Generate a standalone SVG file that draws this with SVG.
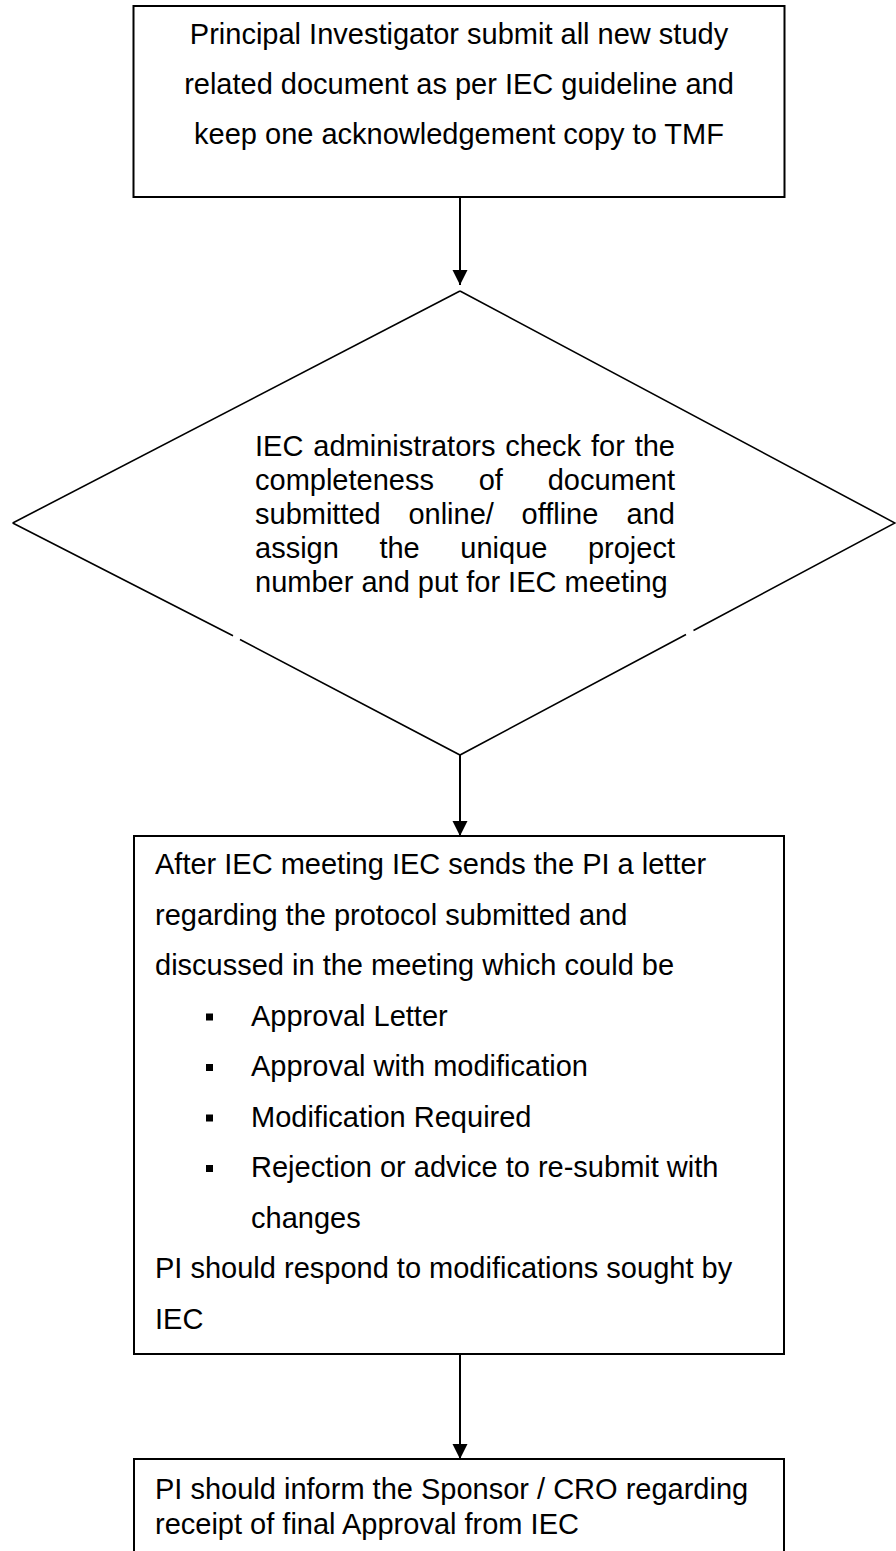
<svg xmlns="http://www.w3.org/2000/svg" width="896" height="1551" viewBox="0 0 896 1551">
<style>
  text { font-family: "Liberation Sans", Arial, sans-serif; font-size: 29px; fill: #000; }
  .box { fill: #fff; stroke: #000; stroke-width: 2; }
  .dia { fill: none; stroke: #000; stroke-width: 1.6; }
  .conn { stroke: #000; stroke-width: 2; fill: none; }
  .mid { text-anchor: middle; }
  .end { text-anchor: end; }
</style>
<defs>
  <marker id="arr" markerUnits="userSpaceOnUse" markerWidth="16" markerHeight="16" refX="15" refY="8" orient="auto">
    <path d="M0,0.5 L15,8 L0,15.5 Z" fill="#000"/>
  </marker>
</defs>
<rect width="896" height="1551" fill="#fff"/>

<g id="connectors">
  <line class="conn" x1="460" y1="197" x2="460" y2="285" marker-end="url(#arr)"/>
  <line class="conn" x1="460" y1="755" x2="460" y2="836" marker-end="url(#arr)"/>
  <line class="conn" x1="460" y1="1354" x2="460" y2="1459" marker-end="url(#arr)"/>
</g>

<g id="node-submit">
  <rect class="box" x="133.5" y="6" width="651" height="191"/>
  <text class="mid" x="459" y="43.5">Principal Investigator submit all new study</text>
  <text class="mid" x="459" y="93.5">related document as per IEC guideline and</text>
  <text class="mid" x="459" y="143.5">keep one acknowledgement copy to TMF</text>
</g>

<g id="node-check">
  <path class="dia" d="M460,291 L895,523 L693.5,630.5 M686,634.5 L460,755 L240,639.5 M233,635.8 L12.7,523 Z"/>
  <path class="dia" d="M12.7,523 L460,291"/>
  <text x="255" y="455.5"><tspan x="255">IEC</tspan><tspan x="313.3">administrators</tspan><tspan x="505.3">check</tspan><tspan x="591">for</tspan></text>
  <text class="end" x="675" y="455.5">the</text>
  <text x="255" y="489.5"><tspan x="255">completeness</tspan><tspan x="478.7">of</tspan></text>
  <text class="end" x="675" y="489.5">document</text>
  <text x="255" y="523.5"><tspan x="255">submitted</tspan><tspan x="408.4">online/</tspan><tspan x="521.5">offline</tspan></text>
  <text class="end" x="675" y="523.5">and</text>
  <text x="255" y="557.5"><tspan x="255">assign</tspan><tspan x="379.4">the</tspan><tspan x="460.3">unique</tspan></text>
  <text class="end" x="675" y="557.5">project</text>
  <text x="255" y="591.5">number and put for IEC meeting</text>
</g>

<g id="node-letter">
  <rect class="box" x="134" y="836" width="650" height="518"/>
  <text x="155" y="874">After IEC meeting IEC sends the PI a letter</text>
  <text x="155" y="924.5">regarding the protocol submitted and</text>
  <text x="155" y="975">discussed in the meeting which could be</text>
  <rect x="206" y="1013.5" width="7" height="7" fill="#000"/>
  <text x="251" y="1025.5">Approval Letter</text>
  <rect x="206" y="1064" width="7" height="7" fill="#000"/>
  <text x="251" y="1076">Approval with modification</text>
  <rect x="206" y="1114.5" width="7" height="7" fill="#000"/>
  <text x="251" y="1126.5">Modification Required</text>
  <rect x="206" y="1165" width="7" height="7" fill="#000"/>
  <text x="251" y="1177">Rejection or advice to re-submit with</text>
  <text x="251" y="1227.5">changes</text>
  <text x="155" y="1278">PI should respond to modifications sought by</text>
  <text x="155" y="1328.5">IEC</text>
</g>

<g id="node-inform">
  <path class="box" d="M134,1560 L134,1459 L784,1459 L784,1560"/>
  <text x="155" y="1499">PI should inform the Sponsor / CRO regarding</text>
  <text x="155" y="1534">receipt of final Approval from IEC</text>
</g>
</svg>
